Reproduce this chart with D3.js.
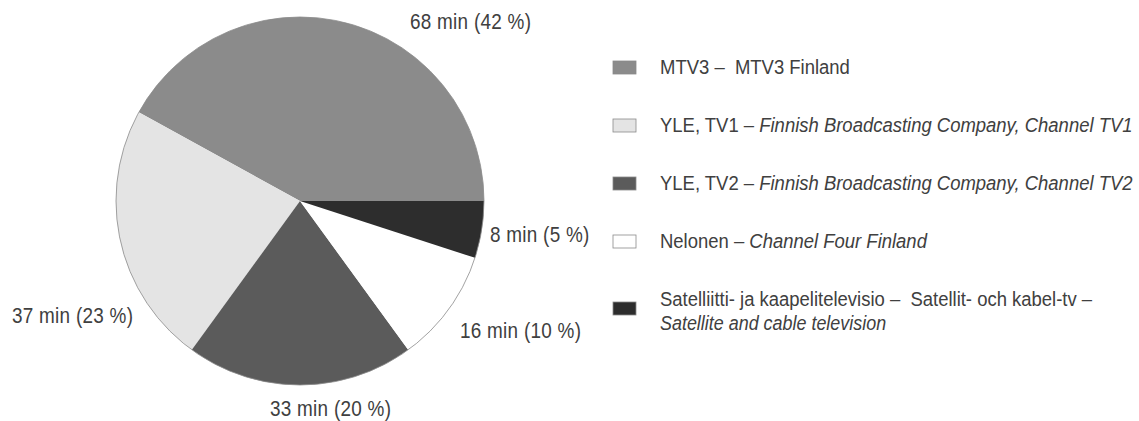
<!DOCTYPE html>
<html>
<head>
<meta charset="utf-8">
<script src="https://cdn.jsdelivr.net/npm/d3@7"></script>
<style>
  html, body { margin: 0; padding: 0; background: #fff; }
  svg { display: block; }
  text { font-family: "Liberation Sans", Arial, sans-serif; fill: #404040; white-space: pre; }
</style>
</head>
<body>
<svg id="chart" width="1139" height="421"></svg>
<script>
// ---- data ----
const categories = ["MTV3", "YLE, TV1", "YLE, TV2", "Nelonen", "Satelliitti- ja kaapelitelevisio"];
const minutes = [68, 37, 33, 16, 8];
const percents = [42, 23, 20, 10, 5];
const legendUpright = [
  "MTV3 \u2013  MTV3 Finland",
  "YLE, TV1 \u2013 ",
  "YLE, TV2 \u2013 ",
  "Nelonen \u2013 ",
  "Satelliitti- ja kaapelitelevisio \u2013  Satellit- och kabel-tv \u2013"
];
const legendItalic = [
  "",
  "Finnish Broadcasting Company, Channel TV1",
  "Finnish Broadcasting Company, Channel TV2",
  "Channel Four Finland",
  ""
];
const legendSecondLine = ["", "", "", "", "Satellite and cable television"];

// ---- layout / style ----
const fills = ["#8b8b8b", "#e4e4e4", "#5b5b5b", "#ffffff", "#2d2d2d"];
const cx = 300, cy = 201, radius = 184;
// label anchor offsets from pie centre (layout only)
const labelOffsets = [[110, -172], [-288, 122], [-30, 215], [160, 137], [190, 41]];
const condense = 0.88; // horizontal squeeze to mimic a condensed typeface

const svg = d3.select("#chart");
const data = categories.map((c, i) => ({ name: c, value: percents[i], min: minutes[i], i }));

const pie = d3.pie().value(d => d.value).sort(null)
  .startAngle(Math.PI / 2).endAngle(Math.PI / 2 - 2 * Math.PI);
const arc = d3.arc().innerRadius(0).outerRadius(radius);

const g = svg.append("g").attr("transform", `translate(${cx},${cy})`);
g.selectAll("path.slice").data(pie(data)).join("path")
  .attr("class", "slice")
  .attr("d", arc)
  .attr("fill", d => fills[d.data.i])
  .attr("stroke", "none");
g.append("circle").attr("r", radius).attr("fill", "none")
  .attr("stroke", "#8a8a8a").attr("stroke-width", 0.8);

g.selectAll("text.lbl").data(data).join("text")
  .attr("class", "lbl")
  .attr("transform", d => `translate(${labelOffsets[d.i][0]},${labelOffsets[d.i][1]}) scale(${condense},1)`)
  .attr("font-size", 21.5)
  .attr("letter-spacing", 0.3)
  .text(d => `${d.min} min (${d.value} %)`);

// ---- legend ----
const legendX = 613, textX = 660;
const rowY = d3.scalePoint().domain(d3.range(categories.length)).range([67, 299]);
const lg = svg.append("g");
const rows = lg.selectAll("g.row").data(data).join("g").attr("class", "row");
rows.append("rect")
  .attr("x", legendX)
  .attr("y", d => rowY(d.i) - 6 + (legendSecondLine[d.i] ? 9 : 0))
  .attr("width", 23).attr("height", 13)
  .attr("fill", d => fills[d.i])
  .attr("stroke", "#8a8a8a").attr("stroke-width", 0.8);
const t = rows.append("text")
  .attr("transform", d => `translate(${textX},${rowY(d.i) + 7}) scale(${condense},1)`)
  .attr("font-size", 21);
t.append("tspan").text(d => legendUpright[d.i]);
t.append("tspan").attr("font-style", "italic").text(d => legendItalic[d.i]);
rows.filter(d => legendSecondLine[d.i]).append("text")
  .attr("transform", d => `translate(${textX},${rowY(d.i) + 31}) scale(${condense * 0.97},1)`)
  .attr("font-size", 21)
  .attr("font-style", "italic")
  .text(d => legendSecondLine[d.i]);
</script>
</body>
</html>
